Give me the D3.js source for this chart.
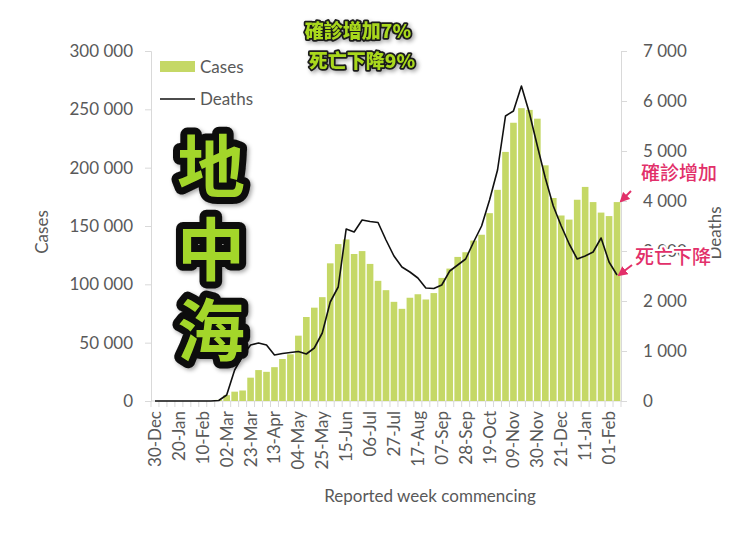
<!DOCTYPE html>
<html>
<head>
<meta charset="utf-8">
<script src="https://cdn.jsdelivr.net/npm/d3@7"></script>
<style>
  body { margin: 0; background: #fff; }
  svg { display: block; font-family: Lato, "Open Sans", sans-serif; }
  .axis text { fill: #595959; font-size: 17px; font-family: Lato, sans-serif; }
  .axis path, .axis line { stroke: #d9d9d9; }
</style>
</head>
<body>
<svg id="chart" width="740" height="536"></svg>
<script>
// weeks, starting 30-Dec-2019
var weeks = ["30-Dec","06-Jan","13-Jan","20-Jan","27-Jan","03-Feb","10-Feb","17-Feb","24-Feb",
  "02-Mar","09-Mar","16-Mar","23-Mar","30-Mar","06-Apr","13-Apr","20-Apr","27-Apr",
  "04-May","11-May","18-May","25-May","01-Jun","08-Jun","15-Jun","22-Jun","29-Jun",
  "06-Jul","13-Jul","20-Jul","27-Jul","03-Aug","10-Aug","17-Aug","24-Aug","31-Aug",
  "07-Sep","14-Sep","21-Sep","28-Sep","05-Oct","12-Oct","19-Oct","26-Oct","02-Nov",
  "09-Nov","16-Nov","23-Nov","30-Nov","07-Dec","14-Dec","21-Dec","28-Dec","04-Jan",
  "11-Jan","18-Jan","25-Jan","01-Feb","08-Feb"];

var cases = [0,0,0,0,0,0,0,0,1000,
  5000,8000,9000,20000,26500,25000,29000,36000,40000,
  56000,72000,80000,89000,118000,134500,138500,126000,128500,
  117500,103000,95000,85000,79000,88500,91500,87000,92500,
  105500,113500,123500,127500,137500,142500,161000,181000,213500,
  238500,251000,249500,242000,202000,174000,159000,155500,172500,
  183500,170500,161500,158500,170500];

var deaths = [0,0,0,0,0,0,0,0,10,
  120,620,900,1120,1160,1120,920,950,970,
  990,940,1060,1360,1980,2280,3440,3380,3620,
  3590,3570,3220,2900,2680,2580,2460,2260,2250,
  2320,2600,2720,2840,3180,3500,4020,4620,5700,
  5800,6300,5760,5100,4460,3900,3500,3140,2840,
  2900,2980,3260,2780,2520];

var caseTicks = [0,50000,100000,150000,200000,250000,300000];
var deathTicks = [0,1000,2000,3000,4000,5000,6000,7000];

var svg = d3.select("#chart");
var plot = {left: 151, right: 621, top: 51, bottom: 401};
var barColor = "#c5d866";

var x = d3.scaleBand()
  .domain(weeks)
  .range([plot.left, plot.right])
  .paddingInner(0.17)
  .paddingOuter(0.085);

var yL = d3.scaleLinear().domain([0, 300000]).range([plot.bottom, plot.top]);
var yR = d3.scaleLinear().domain([0, 7000]).range([plot.bottom, plot.top]);

var fmt = function(d) { return d3.format(",")(d).replace(/,/g, " "); };

// axes
svg.append("g")
  .attr("class", "axis")
  .attr("transform", `translate(${plot.left},0)`)
  .call(d3.axisLeft(yL).tickValues(caseTicks).tickFormat(fmt).tickSize(6).tickSizeOuter(6).tickPadding(12));

svg.append("g")
  .attr("class", "axis")
  .attr("transform", `translate(${plot.right},0)`)
  .call(d3.axisRight(yR).tickValues(deathTicks).tickFormat(fmt).tickSize(6).tickSizeOuter(6).tickPadding(16));

// x axis baseline + tick marks at each category border
var xg = svg.append("g")
  .attr("class", "axis")
  .attr("transform", `translate(0,${plot.bottom})`);
xg.append("line")
  .attr("x1", plot.left).attr("x2", plot.right)
  .attr("stroke", "#d9d9d9");
xg.selectAll("line.tk")
  .data(weeks.concat(["end"]))
  .enter().append("line")
  .attr("class", "tk")
  .attr("x1", (d, i) => i < weeks.length ? x(d) - x.step() * x.paddingInner() / 2 : plot.right)
  .attr("x2", (d, i) => i < weeks.length ? x(d) - x.step() * x.paddingInner() / 2 : plot.right)
  .attr("y1", 0).attr("y2", 6);

var bottomAxis = d3.axisBottom(x)
  .tickValues(weeks.filter((d, i) => i % 3 === 0))
  .tickSize(0);
svg.append("g")
  .attr("class", "axis xlabels")
  .attr("transform", `translate(0,${plot.bottom})`)
  .call(bottomAxis)
  .call(g => g.select(".domain").remove())
  .selectAll("text")
  .attr("transform", "rotate(-90)")
  .attr("x", -10)
  .attr("y", 0)
  .attr("dy", "0.35em")
  .style("text-anchor", "end");

// bars
svg.append("g").selectAll("rect")
  .data(weeks)
  .enter().append("rect")
  .attr("x", d => x(d))
  .attr("width", x.bandwidth())
  .attr("y", (d, i) => yL(cases[i]))
  .attr("height", (d, i) => plot.bottom - yL(cases[i]))
  .attr("fill", barColor);

// deaths line
var line = d3.line()
  .x((d, i) => x(weeks[i]) + x.bandwidth() / 2)
  .y(d => yR(d));
svg.append("path")
  .datum(deaths)
  .attr("d", line)
  .attr("fill", "none")
  .attr("stroke", "#111")
  .attr("stroke-width", 1.6)
  .attr("stroke-linejoin", "round");

// axis titles
svg.append("text")
  .attr("transform", "translate(48,232) rotate(-90)")
  .attr("text-anchor", "middle")
  .attr("fill", "#595959")
  .style("font-size", "17px")
  .text("Cases");

svg.append("text")
  .attr("transform", "translate(721,233) rotate(-90)")
  .attr("text-anchor", "middle")
  .attr("fill", "#595959")
  .style("font-size", "17px")
  .text("Deaths");

svg.append("text")
  .attr("x", 430).attr("y", 502)
  .attr("text-anchor", "middle")
  .attr("fill", "#595959")
  .style("font-size", "17px")
  .text("Reported week commencing");

// legend
svg.append("rect")
  .attr("x", 160).attr("y", 61).attr("width", 35).attr("height", 11)
  .attr("fill", barColor);
svg.append("text")
  .attr("x", 200).attr("y", 73)
  .attr("fill", "#595959").style("font-size", "17px")
  .text("Cases");
svg.append("line")
  .attr("x1", 160).attr("x2", 195).attr("y1", 99).attr("y2", 99)
  .attr("stroke", "#111").attr("stroke-width", 1.6);
svg.append("text")
  .attr("x", 200).attr("y", 105)
  .attr("fill", "#595959").style("font-size", "17px")
  .text("Deaths");

// overlay texts
var defs = svg.append("defs");
var sh = defs.append("filter").attr("id", "shadow").attr("x", "-20%").attr("y", "-20%").attr("width", "140%").attr("height", "140%");
sh.append("feDropShadow").attr("dx", 2).attr("dy", 2).attr("stdDeviation", 2).attr("flood-color", "#000").attr("flood-opacity", 0.35);

var cjk = '"Noto Sans CJK TC", "Noto Sans CJK SC", sans-serif';

var titleLines = ["確診增加7%", "死亡下降9%"];
svg.append("g").selectAll("text")
  .data(titleLines)
  .enter().append("text")
  .attr("x", (d, i) => i === 0 ? 358 : 362)
  .attr("y", (d, i) => 38 + i * 30)
  .attr("text-anchor", "middle")
  .style("font-family", cjk)
  .style("font-size", "19px")
  .style("font-weight", 900)
  .attr("fill", "#a9d81f")
  .attr("stroke", "#1a1a1a")
  .attr("stroke-width", 3.5)
  .attr("stroke-linejoin", "round")
  .attr("paint-order", "stroke")
  .attr("filter", "url(#shadow)")
  .text(d => d);

var bigChars = ["地", "中", "海"];
svg.append("g").selectAll("text")
  .data(bigChars)
  .enter().append("text")
  .attr("x", 211)
  .attr("y", (d, i) => [192, 275, 356][i])
  .attr("text-anchor", "middle")
  .style("font-family", cjk)
  .style("font-size", "68px")
  .style("font-weight", 700)
  .attr("fill", "#a3d62b")
  .attr("stroke", "#0a0a0a")
  .attr("stroke-width", 14)
  .attr("stroke-linejoin", "round")
  .attr("paint-order", "stroke")
  .attr("filter", "url(#shadow)")
  .text(d => d);

// pink notes with arrows
var pink = "#e2306a";
defs.append("marker")
  .attr("id", "arr").attr("viewBox", "0 0 10 10").attr("refX", 8).attr("refY", 5)
  .attr("markerWidth", 5).attr("markerHeight", 5).attr("orient", "auto")
  .append("path").attr("d", "M0,0L10,5L0,10z").attr("fill", pink);

var notes = ["確診增加", "死亡下降"];
svg.append("g").selectAll("text")
  .data(notes)
  .enter().append("text")
  .attr("x", (d, i) => i === 0 ? 679 : 673)
  .attr("y", (d, i) => i === 0 ? 180 : 264)
  .attr("text-anchor", "middle")
  .style("font-family", cjk)
  .style("font-size", "19px")
  .style("font-weight", 500)
  .attr("fill", pink)
  .attr("stroke", "#fff")
  .attr("stroke-width", 4)
  .attr("stroke-linejoin", "round")
  .attr("paint-order", "stroke")
  .text(d => d);

var last = weeks.length - 1;
var lastX = x(weeks[last]) + x.bandwidth() / 2;
svg.append("line")
  .attr("x1", 631).attr("y1", 191)
  .attr("x2", lastX + 4).attr("y2", yL(cases[last]) - 1)
  .attr("stroke", pink).attr("stroke-width", 2)
  .attr("marker-end", "url(#arr)");
svg.append("line")
  .attr("x1", 632).attr("y1", 265)
  .attr("x2", lastX + 2).attr("y2", yR(deaths[last]))
  .attr("stroke", pink).attr("stroke-width", 2)
  .attr("marker-end", "url(#arr)");
</script>
</body>
</html>
